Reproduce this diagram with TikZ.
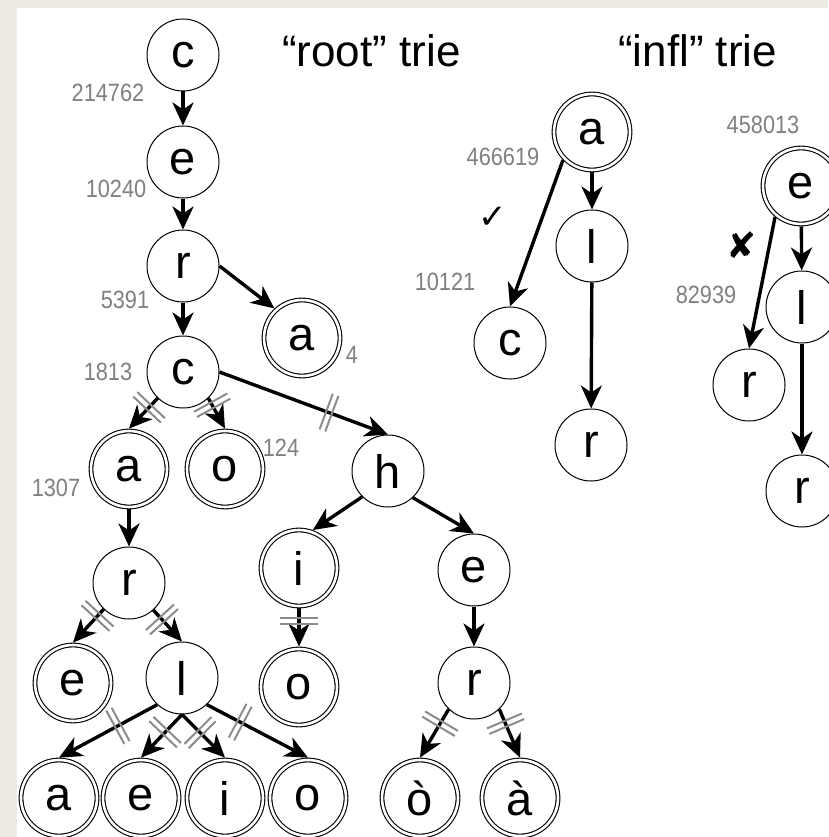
\documentclass[tikz,border=0pt]{standalone}
\usepackage{fontspec}
\setmainfont{Liberation Sans}[Ligatures=NoCommon]
\newfontfamily\numfont{Liberation Sans}[FakeStretch=0.87]
\newfontfamily\symfont{DejaVu Sans}
\usetikzlibrary{arrows.meta, decorations.markings}
\definecolor{paper}{RGB}{238,235,229}
\definecolor{countgray}{RGB}{128,128,128}
\definecolor{hatchgray}{RGB}{140,140,140}

\begin{document}
\begin{tikzpicture}[x=1pt, y=-1pt,
  state/.style={circle, draw, line width=1pt, minimum size=72pt, inner sep=0pt,
    font=\fontsize{47}{47}\selectfont},
  final/.style={state, minimum size=76pt, double, double distance=2.6pt,
    line width=1.1pt, outer sep=2.4pt},
  link/.style={line width=3.4pt, -{Stealth[length=23pt, width=21pt, inset=7pt]}},
  count/.style={text=countgray, font=\numfont\fontsize{25}{25}\selectfont, inner sep=0pt},
  title/.style={font=\fontsize{44}{44}\selectfont, inner sep=0pt, anchor=base west},
  hatchline/.style={draw=hatchgray, line width=2pt, arrows=-},
  hatch/.style={postaction={decorate, decoration={markings,
    mark=at position #1 with {\draw[hatchline] (-3,-19) -- (-3,19) (3,-19) -- (3,19);}}}}
]
\useasboundingbox (0,0) rectangle (828,837);
\fill[paper] (0,0) rectangle (828,837);
\fill[white] (17,8) rectangle (828,837);

% titles
\node[title] (t1) at (282,67) {“root” trie};
\node[title] (t2) at (618,67) {“infl” trie};

% "root" trie
\node[state] (c1) at (183,55) {c};
\node[state] (e1) at (183,162) {e};
\node[state] (r1) at (183,266) {r};
\node[final] (ra) at (302,338) {a};
\node[state] (c2) at (183,372) {c};
\node[final] (ca) at (129,469) {a};
\node[final] (co) at (225,469) {o};
\node[state] (ch) at (388,471) {h};
\node[state] (car) at (129,583) {r};
\node[final] (care) at (73,683) {e};
\node[state] (carl) at (182,678) {l};
\node[final] (chi) at (299,568) {i};
\node[final] (chio) at (299,687) {o};
\node[state] (che) at (474,570) {e};
\node[state] (cher) at (474,683) {r};
\node[final] (b1) at (59,798) {a};
\node[final] (b2) at (141,798) {e};
\node[final] (b3) at (225,798) {i};
\node[final] (b4) at (308,798) {o};
\node[final] (b5) at (420,798) {ò};
\node[final] (b6) at (520,798) {à};

\draw[link] (c1) -- (e1);
\draw[link] (e1) -- (r1);
\draw[link] (r1.east) -- (ra.133);
\draw[link] (r1) -- (c2);
\draw[link, hatch=0.3] (c2.226) -- (ca.north);
\draw[link, hatch=0.23] (c2.-46) -- (co.north);
\draw[link, hatch=0.65] (c2.east) -- (ch.north);
\draw[link] (ca) -- (car);
\draw[link, hatch=0.2] (car.226) -- (care.north);
\draw[link, hatch=0.3] (car.-48) -- (carl.north);
\draw[link, hatch=0.4] (carl.227) -- (b1.north);
\draw[link, hatch=0.41] (carl.south) -- (b2.north);
\draw[link, hatch=0.42] (carl.south) -- (b3.north);
\draw[link, hatch=0.33] (carl.-47) -- (b4.north);
\draw[link] (ch.225) -- (chi.70);
\draw[link] (ch.-47) -- (che.north);
\draw[link, hatch=0.32] (chi) -- (chio);
\draw[link] (che) -- (cher);
\draw[link, hatch=0.3] (cher.226) -- (b5.north);
\draw[link, hatch=0.3] (cher.-46) -- (b6.north);

% counts
\node[count] (n1) at (108,93) {214762};
\node[count] (n2) at (116,189) {10240};
\node[count] (n3) at (125,300) {5391};
\node[count] (n4) at (108,372) {1813};
\node[count] (n5) at (352,355) {4};
\node[count] (n6) at (281,448) {124};
\node[count] (n7) at (56,488) {1307};

% "infl" trie
\node[final] (ia) at (592,132) {a};
\node[state] (il) at (592,246) {l};
\node[state] (ic) at (510,343) {c};
\node[state] (ir) at (591,445) {r};
\node[final] (je) at (801,186) {e};
\node[state] (jl) at (802,307) {l};
\node[state] (jr) at (749,385) {r};
\node[state] (jr2) at (802,491) {r};

\draw[link] (ia) -- (il);
\draw[link] (ia.224) -- (ic.north);
\draw[link] (il) -- (ir);
\draw[link] (je) -- (jl);
\draw[link] (je.230) -- (jr.north);
\draw[link] (jl) -- (jr2);

\node[count] (m1) at (503,157) {466619};
\node[count] (m2) at (445,282) {10121};
\node[count] (m3) at (763,125) {458013};
\node[count] (m4) at (706,295) {82939};
\node[inner sep=0pt] (ok) at (493,218) {\symfont\fontsize{34}{34}\selectfont ✓};
\node[inner sep=0pt] (no) at (742,245) {\symfont\fontsize{36}{36}\selectfont ✘};
\end{tikzpicture}
\end{document}
